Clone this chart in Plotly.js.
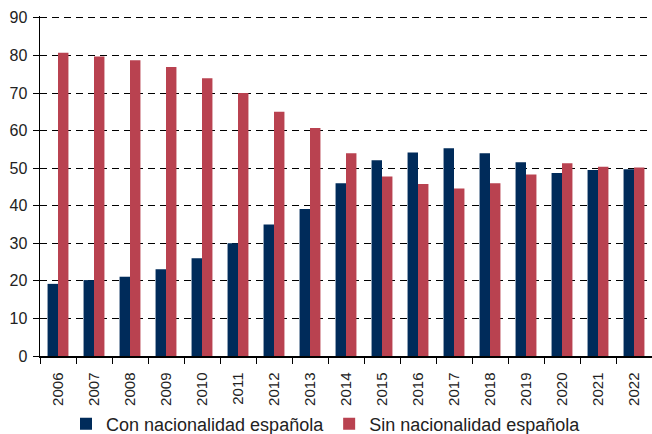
<!DOCTYPE html>
<html>
<head>
<meta charset="utf-8">
<script src="https://cdn.plot.ly/plotly-3.0.1.min.js"></script>
<style>html,body{margin:0;padding:0;background:#fff;}#chart{width:652px;height:434px;}</style>
</head>
<body>
<div id="chart"></div>
<script>
const years = ["2006","2007","2008","2009","2010","2011","2012","2013","2014","2015","2016","2017","2018","2019","2020","2021","2022"];
const conNacionalidad = [19.2,20.2,21.1,23.1,26.0,30.0,35.0,39.1,46.0,52.1,54.2,55.3,54.0,51.6,48.7,49.5,49.7];
const sinNacionalidad = [80.7,79.7,78.7,76.9,73.9,70.0,65.0,60.7,54.0,47.8,45.8,44.6,46.0,48.3,51.3,50.4,50.2];
const seriesNames = ["Con nacionalidad española","Sin nacionalidad española"];
const yTicks = [0,10,20,30,40,50,60,70,80,90];

const traces = [
  {type:"bar", x:years, y:conNacionalidad, name:seriesNames[0], marker:{color:"#002B5A"}},
  {type:"bar", x:years, y:sinNacionalidad, name:seriesNames[1], marker:{color:"#B94250"}}
];
const layout = {
  width:652, height:434,
  margin:{l:40, r:0, t:16, b:78, autoexpand:false},
  paper_bgcolor:"#fff", plot_bgcolor:"#fff",
  font:{family:"Liberation Sans, Arial, sans-serif", size:15, color:"#222"},
  barmode:"group", bargap:0.42, bargroupgap:0,
  showlegend:true,
  legend:{orientation:"h", x:0.5, xref:"container", xanchor:"center", y:0.023, yref:"container", yanchor:"middle", bgcolor:"rgba(0,0,0,0)", font:{size:18, color:"#222"}, itemwidth:30, traceorder:"normal"},
  xaxis:{type:"category", automargin:false, tickangle:-90, ticks:"outside", tickson:"boundaries", ticklen:6, ticklabelstandoff:9, tickcolor:"#000", showline:true, linecolor:"#000", linewidth:1.5, showgrid:false, tickfont:{size:15}},
  yaxis:{range:[0,90.5], automargin:false, tickvals:yTicks, ticks:"outside", ticklen:6, ticklabelstandoff:2, tickcolor:"#000", showline:true, linecolor:"#000", linewidth:1.5, showgrid:true, gridcolor:"#000", griddash:"7px,5px", gridwidth:1, zeroline:false, tickfont:{size:16}}
};
Plotly.newPlot("chart", traces, layout, {displayModeBar:false, staticPlot:true});
</script>
</body>
</html>
